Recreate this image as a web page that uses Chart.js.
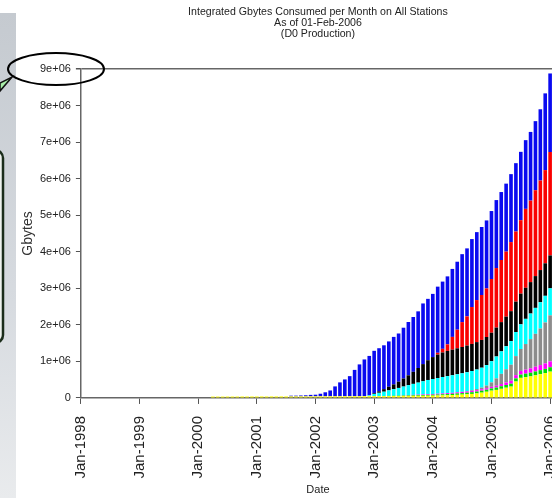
<!DOCTYPE html>
<html><head><meta charset="utf-8">
<script src="https://cdn.jsdelivr.net/npm/chart.js@4.4.1/dist/chart.umd.min.js"></script>
<style>
html,body{margin:0;padding:0;background:#fff;overflow:hidden;width:552px;height:498px;}
#wrap{position:absolute;left:0;top:0;width:600px;height:498px;}
</style></head><body>
<div id="wrap"><canvas id="c" width="600" height="498"></canvas></div>
<script>
const titleLines = ['Integrated Gbytes Consumed per Month on All Stations', 'As of 01-Feb-2006', '(D0 Production)'];
const xTickLabels = ['Jan-1998','Jan-1999','Jan-2000','Jan-2001','Jan-2002','Jan-2003','Jan-2004','Jan-2005','Jan-2006'];
const yTickLabels = ['0','1e+06','2e+06','3e+06','4e+06','5e+06','6e+06','7e+06','8e+06','9e+06'];
const yTickValues = [0,1000000,2000000,3000000,4000000,5000000,6000000,7000000,8000000,9000000];

const months = [
 '2000-04','2000-05','2000-06','2000-07','2000-08','2000-09','2000-10','2000-11','2000-12',
 '2001-01','2001-02','2001-03','2001-04','2001-05','2001-06','2001-07','2001-08','2001-09','2001-10','2001-11','2001-12',
 '2002-01','2002-02','2002-03','2002-04','2002-05','2002-06','2002-07','2002-08','2002-09','2002-10','2002-11','2002-12',
 '2003-01','2003-02','2003-03','2003-04','2003-05','2003-06','2003-07','2003-08','2003-09','2003-10','2003-11','2003-12',
 '2004-01','2004-02','2004-03','2004-04','2004-05','2004-06','2004-07','2004-08','2004-09','2004-10','2004-11','2004-12',
 '2005-01','2005-02','2005-03','2005-04','2005-05','2005-06','2005-07','2005-08','2005-09','2005-10','2005-11','2005-12',
 '2006-01'
];

const yellow = [
 38000,38000,38000,39000,39000,39000,40000,40000,40000,41000,41000,41000,42000,42000,42000,
 42000,42000,43000,43000,43000,44000,44000,45000,45000,45000,46000,46000,47000,47000,48000,48000,49000,50000,
 50000,51000,51000,52000,53000,54000,55000,56000,57000,58000,59000,60000,
 62000,66000,70000,74000,78000,85000,92000,100000,110000,125000,145000,170000,
 200000,220000,250000,280000,310000,450000,550000,570000,590000,620000,650000,680000,720000
];
const green = [
 0,0,0,0,0,0,0,0,0,0,0,0,0,0,0,0,0,0,0,0,0,0,0,0,0,0,0,0,0,0,0,0,0,0,0,0,
 5000,8000,10000,12000,15000,18000,20000,22000,24000,
 26000,28000,30000,32000,35000,38000,41000,44000,47000,50000,53000,56000,
 60000,65000,70000,75000,80000,85000,90000,95000,100000,105000,110000,115000,120000
];
const magenta = [
 0,0,0,0,0,0,0,0,0,0,0,0,0,0,0,0,0,0,0,0,0,0,0,0,0,0,0,0,0,0,0,0,0,0,0,0,0,0,0,
 5000,8000,10000,12000,15000,18000,
 20000,22000,24000,26000,28000,30000,32000,34000,36000,38000,40000,42000,
 45000,50000,60000,70000,80000,90000,100000,110000,120000,130000,140000,150000,160000
];
const gray = [
 0,0,0,0,0,0,0,0,0,0,0,0,0,0,0,0,0,0,0,0,0,0,0,0,0,0,0,0,0,0,0,0,0,0,0,0,0,0,0,0,0,0,0,0,0,0,0,0,0,0,0,
 5000,10000,20000,30000,45000,70000,
 120000,200000,280000,360000,440000,520000,600000,700000,800000,900000,1000000,1120000,1260000
];
const cyan = [
 0,0,0,0,0,0,0,0,0,0,0,0,0,0,0,0,0,0,0,0,0,0,0,0,0,0,0,0,0,0,0,
 5000,20000,
 60000,90000,120000,150000,180000,210000,240000,270000,300000,330000,360000,390000,
 410000,430000,450000,465000,480000,495000,505000,515000,525000,535000,545000,560000,
 580000,600000,615000,630000,645000,660000,675000,690000,700000,710000,720000,730000,740000
];
const black = [
 0,0,0,0,0,0,0,0,0,0,0,0,0,0,0,0,0,0,0,0,0,0,0,0,0,0,0,0,0,0,0,0,0,
 20000,40000,70000,100000,130000,170000,220000,270000,330000,400000,470000,540000,
 600000,640000,670000,690000,700000,710000,720000,730000,740000,750000,760000,770000,
 780000,790000,800000,810000,820000,830000,840000,850000,860000,870000,880000,890000,900000
];
const red = [
 0,0,0,0,0,0,0,0,0,0,0,0,0,0,0,0,0,0,0,0,0,0,0,0,0,0,0,0,0,0,0,0,0,0,0,0,0,0,0,0,0,0,0,0,0,0,
 50000,100000,180000,350000,510000,680000,800000,1010000,1150000,1230000,1330000,
 1470000,1630000,1700000,1780000,1890000,1920000,2010000,2160000,2230000,2350000,2450000,2550000,2830000
];
const blue = [
 0,0,0,0,0,0,0,0,0,0,0,0,0,0,0,0,
 20000,20000,25000,30000,40000,45000,70000,110000,160000,270000,380000,460000,550000,720000,870000,1000000,1080000,
 1160000,1180000,1200000,1240000,1300000,1320000,1390000,1460000,1500000,1550000,1660000,1680000,1730000,
 1810000,1840000,1860000,1860000,1860000,1860000,1860000,1860000,1860000,1860000,1860000,1860000,
 1860000,1860000,1860000,1860000,1870000,1870000,1880000,1880000,1890000,1950000,2100000,2150000
];

const seriesList = [
 {name:'yellow', data:yellow, color:'#ffff00'},
 {name:'green', data:green, color:'#00e000'},
 {name:'magenta', data:magenta, color:'#ff00ff'},
 {name:'gray', data:gray, color:'#8c8c8c'},
 {name:'cyan', data:cyan, color:'#00ffff'},
 {name:'black', data:black, color:'#000000'},
 {name:'red', data:red, color:'#fa0000'},
 {name:'blue', data:blue, color:'#0a0af0'}
];

function monthIndex(s){ const p = s.split('-'); return (parseInt(p[0],10)-1998)*12 + (parseInt(p[1],10)-1); }

const datasets = seriesList.map(s => ({
  label: s.name,
  data: months.map((m,i) => ({x: monthIndex(m), y: s.data[i]})),
  backgroundColor: s.color,
  borderWidth: 0,
  categoryPercentage: 1.0,
  barPercentage: 0.74
}));

const FONT = 'Liberation Sans, Arial, sans-serif';

const decor = {
  id: 'decor',
  beforeDraw(chart){
    const c = chart.ctx;
    c.save();
    c.fillStyle = '#fff'; c.fillRect(0,0,chart.width,chart.height);
    const g = c.createLinearGradient(0,13,0,498);
    g.addColorStop(0,'#c5cad0'); g.addColorStop(0.6,'#d7dbe0'); g.addColorStop(1,'#e9ebed');
    c.fillStyle = g; c.fillRect(0,13,16,485);
    c.beginPath(); c.roundRect(-60,150,63,193,8);
    c.fillStyle = '#eef2ee'; c.fill();
    c.lineWidth = 2.5; c.strokeStyle = '#1b2d1b'; c.stroke();
    c.beginPath(); c.moveTo(0,83); c.lineTo(12,77); c.lineTo(0,91); c.closePath();
    c.fillStyle = '#a8eea8'; c.fill(); c.lineWidth = 1.5; c.strokeStyle = '#111'; c.stroke();
    c.restore();
  },
  afterDraw(chart){
    const c = chart.ctx;
    const cy = chart.scales.y.getPixelForValue(9000000);
    c.save();
    c.beginPath(); c.ellipse(56, cy, 48, 16, 0, 0, Math.PI*2);
    c.lineWidth = 2; c.strokeStyle = '#000'; c.stroke();
    c.restore();
  }
};

new Chart(document.getElementById('c'), {
  type: 'bar',
  data: { datasets },
  plugins: [decor],
  options: {
    responsive: false,
    animation: false,
    devicePixelRatio: 1,
    layout: { padding: { left: 0, right: 45, top: 0, bottom: 0 } },
    plugins: {
      legend: { display: false },
      tooltip: { enabled: false },
      title: {
        display: true, fullSize: false, text: titleLines, color: '#222',
        font: { family: FONT, size: 10.6, weight: 'normal', lineHeight: 1.04 },
        padding: { top: 7, bottom: 29 }
      }
    },
    scales: {
      x: {
        type: 'linear', stacked: true, min: 0, max: 97, offset: false,
        border: { display: true, color: '#666', width: 1.5 },
        grid: { offset: false, drawOnChartArea: false, drawTicks: true, tickLength: 6, tickColor: '#555', lineWidth: 1 },
        ticks: {
          stepSize: 12, autoSkip: false, includeBounds: false, minRotation: 90, maxRotation: 90,
          padding: 12, color: '#222', font: { family: FONT, size: 15 },
          callback: (v) => { const k = Math.round(v/12); return (v % 12 === 0 && xTickLabels[k]) ? xTickLabels[k] : ''; }
        },
        title: { display: true, text: 'Date', color: '#222', font: { family: FONT, size: 11, lineHeight: 1 }, padding: { top: -6, bottom: 2.5 } }
      },
      y: {
        stacked: true, min: 0, max: 9000000,
        border: { display: true, color: '#666', width: 1.5 },
        grid: {
          drawOnChartArea: true, drawTicks: true, tickLength: 5, tickColor: '#555',
          color: (ctx) => (ctx.tick && ctx.tick.value === 9000000) ? '#666' : 'rgba(0,0,0,0)',
          lineWidth: (ctx) => (ctx.tick && ctx.tick.value === 9000000) ? 1.5 : 1
        },
        ticks: {
          stepSize: 1000000, padding: 5, color: '#222', font: { family: FONT, size: 11 },
          callback: (v) => { const k = yTickValues.indexOf(v); return k >= 0 ? yTickLabels[k] : ''; }
        },
        title: { display: true, text: 'Gbytes', color: '#333', font: { family: FONT, size: 14, lineHeight: 1 }, padding: { top: 21, bottom: 0 } }
      }
    }
  }
});
</script>
</body></html>
